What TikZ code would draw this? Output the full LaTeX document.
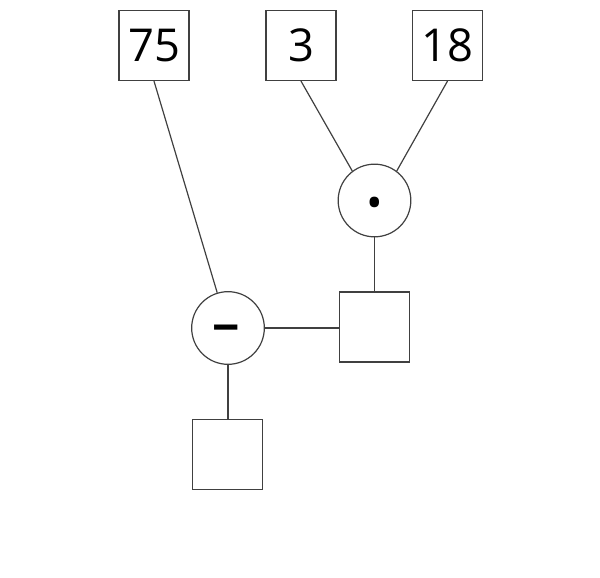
\documentclass[tikz,border=0pt]{standalone}
\usepackage{fontspec}
\setmainfont{Open Sans}
\begin{document}
\begin{tikzpicture}[x=0.75pt,y=-0.75pt,
  numbox/.style={draw=black!75,line width=0.9pt,minimum size=52.5pt,inner sep=0pt,
    font=\fontsize{34}{38}\selectfont},
  opcirc/.style={draw=black!75,line width=0.9pt,circle,minimum size=54.5pt,inner sep=0pt},
  opsym/.style={inner sep=0pt,font=\bfseries\fontsize{36}{40}\selectfont},
  link/.style={draw=black!75,line width=0.9pt}]
\useasboundingbox (0,0) rectangle (600,578);
\node[numbox] (n75) at (154,45.5) {75};
\node[numbox] (n3) at (301,45.5) {3};
\node[numbox] (n18) at (447.5,45.5) {18};
\node[opcirc] (dot) at (374.5,200.5) {};
\node[opcirc] (minus) at (228,328) {};
\node[opsym,font=\fontsize{33}{36}\selectfont] (dotsym) at (374.5,208) {•};
\node[opsym] (minussym) at (226.5,335) {−};
\node[numbox] (r) at (374.5,327) {};
\node[numbox] (b) at (227.5,454.5) {};
\draw[link] (n75.south) -- (minus.107);
\draw[link] (n3.south) -- (dot.127);
\draw[link] (n18.south) -- (dot.53);
\draw[link] (dot.south) -- (r.north);
\draw[link] (minus.east) -- (minus.east -| r.west);
\draw[link] (minus.south) -- (minus.south |- b.north);
\end{tikzpicture}
\end{document}
